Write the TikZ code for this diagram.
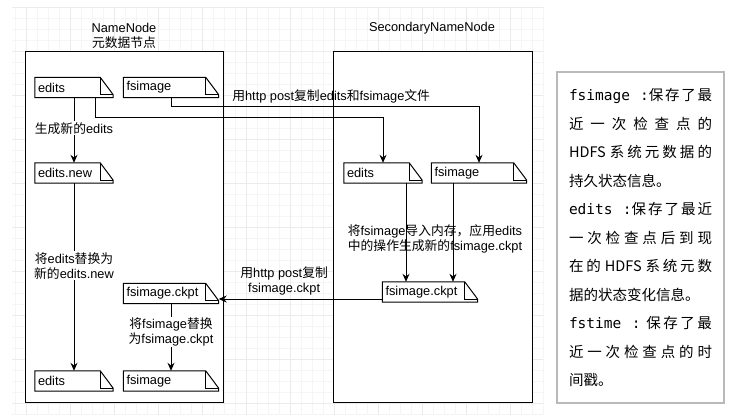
\documentclass[tikz,border=0pt]{standalone}
\usepackage{fontspec}
\setmainfont{Liberation Sans}
\newfontfamily\cjk{Noto Sans CJK SC}
\newfontfamily\mono{DejaVu Sans Mono}
\usetikzlibrary{arrows.meta, calc, positioning}

\begin{document}
\begin{tikzpicture}[x=1pt, y=-1pt, >={Stealth[length=8pt, width=7pt]},
    every node/.style={font=\fontsize{12.8pt}{15pt}\selectfont},
    doc/.style={minimum height=20pt, inner xsep=3pt, inner ysep=0pt, align=left, text width=#1},
    lbl/.style={align=center, fill=white, inner sep=1pt},
    box/.style={draw, fill=white, line width=1pt}]
    \useasboundingbox (0,0) rectangle (736,417);

    \foreach \i in {0,...,48}
        \draw[gray!8] ({14.7+11*\i},7) -- ({14.7+11*\i},415);
    \foreach \j in {0,...,37}
        \draw[gray!8] (12,{7.3+11*\j}) -- (543,{7.3+11*\j});
    \foreach \i in {0,...,11}
        \draw[gray!16] ({25.7+44*\i},7) -- ({25.7+44*\i},415);
    \foreach \j in {0,...,9}
        \draw[gray!16] (12,{7.3+44*\j}) -- (543,{7.3+44*\j});

    \node[box, minimum width=198pt, minimum height=350pt] (nn) at (124,227) {};
    \node[box, minimum width=199pt, minimum height=350pt] (snn) at (432.5,227) {};
    \node[align=center] (nntitle) at (124,35.5) {NameNode\\{\cjk 元数据节点}};
    \node (snntitle) at (432,28) {SecondaryNameNode};

    \node[doc=72pt] (nnedits) at (74,87.5) {edits};
    \node[doc=89pt] (nnfsimage) at (171,87.5) {fsimage};
    \node[doc=72pt] (editsnew) at (74,173) {edits.new};
    \node[doc=72pt] (snnedits) at (383,173) {edits};
    \node[doc=89pt] (snnfsimage) at (479,173) {fsimage};
    \node[doc=89pt] (snnckpt) at (430,292) {fsimage.ckpt};
    \node[doc=89pt] (nnckpt) at (171,293.5) {fsimage.ckpt};
    \node[doc=72pt] (newedits) at (74,381) {edits};
    \node[doc=89pt] (newfsimage) at (171,381) {fsimage};

    \foreach \n in {nnedits, nnfsimage, editsnew, snnedits, snnfsimage, snnckpt, nnckpt, newedits, newfsimage} {
        \draw[line width=1pt] (\n.south west) -- (\n.north west) -- ([xshift=-13pt]\n.north east)
            -- ([yshift=3pt]\n.south east) -- (\n.south east) -- cycle;
        \draw[line width=1pt] ([xshift=-13pt]\n.north east) |- ([yshift=3pt]\n.south east);
    }

    \draw[->, line width=1pt] (nnedits) -- node[lbl, pos=0.47] {{\cjk 生成新的}edits} (editsnew);
    \draw[->, line width=1pt] ([xshift=21pt]nnedits.south) -- ++(0,20) -| (snnedits.north);
    \draw[->, line width=1pt] (nnfsimage.south) -- ++(0,9) -| node[pos=0.26, above] {{\cjk 用}http post{\cjk 复制}edits{\cjk 和}fsimage{\cjk 文件}} (snnfsimage.north);

    \draw[->, line width=1pt] ([xshift=23pt]snnedits.south) -- ([xshift=23pt]snnedits.south |- snnckpt.north);
    \draw[->, line width=1pt] ([xshift=-26pt]snnfsimage.south) -- ([xshift=-26pt]snnfsimage.south |- snnckpt.north);
    \node[align=center] (loadlbl) at (435,238.5) {{\cjk 将}fsimage{\cjk 导入内存，应用}edits\\{\cjk 中的操作生成新的}fsimage.ckpt};

    \draw[->, line width=1pt] ([yshift=-7pt]snnckpt.west) -- node[above, align=center, pos=0.6] {{\cjk 用}http post{\cjk 复制}\\fsimage.ckpt} ([yshift=-7pt]snnckpt.west -| nnckpt.east);

    \draw[->, line width=1pt] (editsnew) -- node[lbl, pos=0.44] {{\cjk 将}edits{\cjk 替换为}\\{\cjk 新的}edits.new} (newedits);
    \draw[->, line width=1pt] (nnckpt) -- node[lbl, pos=0.42] {{\cjk 将}fsimage{\cjk 替换}\\{\cjk 为}fsimage.ckpt} (newfsimage);

    \node[draw=gray!55, fill=white, line width=1.2pt, text width=143pt, inner xsep=12pt, inner ysep=0pt,
        minimum height=331pt, align=justify, font=\fontsize{14.5pt}{28.5pt}\cjk] (note) at (640.5,237.5) {%
        \XeTeXlinebreaklocale "zh"\XeTeXlinebreakskip=0pt plus 6pt\tolerance=10000\parindent=0pt
        {\mono fsimage :}保存了最\linebreak
        近一次检查点的\linebreak
        HDFS 系统元数据的\linebreak
        持久状态信息。\par
        {\mono edits :}保存了最近\linebreak
        一次检查点后到现\linebreak
        在的 HDFS 系统元数\linebreak
        据的状态变化信息。\par
        {\mono fstime :} 保存了最\linebreak
        近一次检查点的时\linebreak
        间戳。};
\end{tikzpicture}
\end{document}
